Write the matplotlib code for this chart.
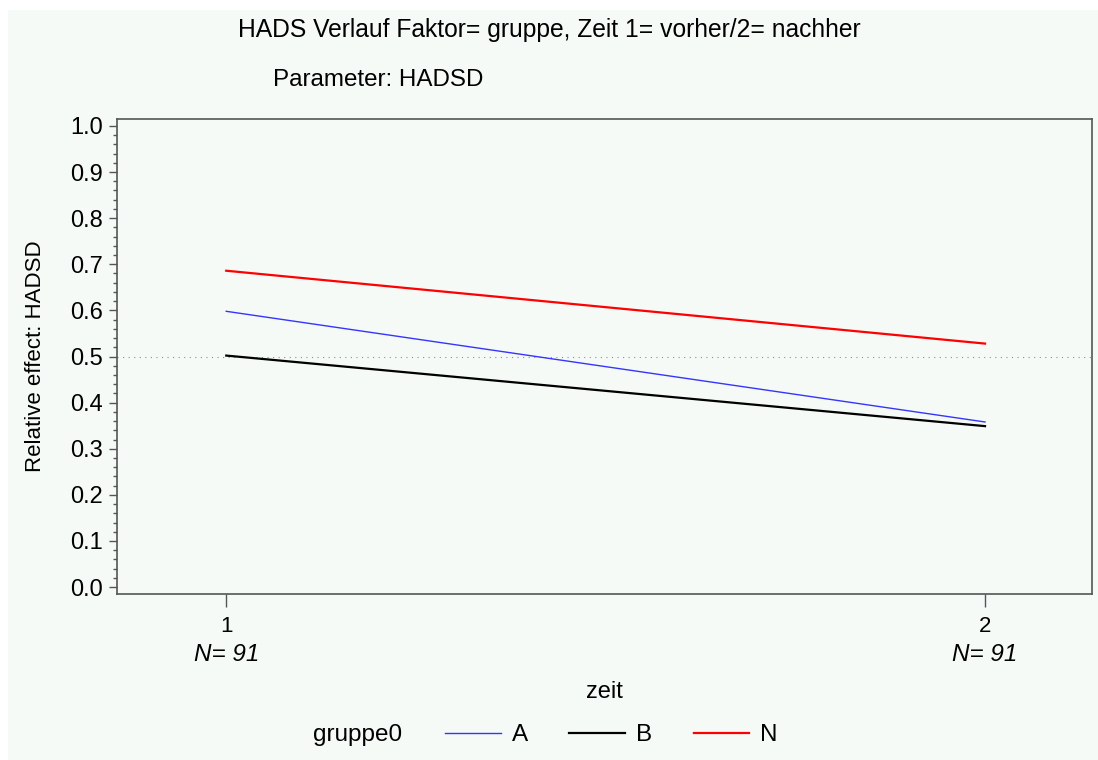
import matplotlib.pyplot as plt
from matplotlib.lines import Line2D
from matplotlib.patches import Rectangle
from matplotlib.ticker import MultipleLocator
import matplotlib.transforms as mtransforms

plt.rcParams['font.family'] = ['Liberation Sans', 'DejaVu Sans']

# Data
zeit = [1, 2]
n_counts = [91, 91]
groups = ['A', 'B', 'N']
values = {
    'A': [0.598, 0.358],
    'B': [0.502, 0.349],
    'N': [0.686, 0.528],
}
colors = {'A': '#3535ff', 'B': 'black', 'N': '#ff0000'}
widths = {'A': 1.0, 'B': 1.6, 'N': 1.6}
bg = '#f5faf7'

fig = plt.figure(figsize=(10.98, 7.6), dpi=100, facecolor='white')
fig.patches.append(Rectangle((8 / 1098, 0), 1, 1 - 10 / 760, transform=fig.transFigure,
                             facecolor=bg, edgecolor='none', zorder=-10))

ax = fig.add_axes([117 / 1098, 166 / 760, 975 / 1098, 475 / 760])
ax.set_facecolor(bg)

for g in groups:
    ax.plot(zeit, values[g], color=colors[g], lw=widths[g])

ax.axhline(0.5, color='#909090', lw=0.8, ls=(0, (1, 4)), zorder=0)

ax.set_xlim(0.856, 2.141)
ax.set_ylim(-0.015, 1.015)
ax.yaxis.set_minor_locator(MultipleLocator(0.02))
ax.set_yticks([i / 10 for i in range(11)])
ax.set_yticklabels([f'{i / 10:.1f}' for i in range(11)])
ax.set_xticks(zeit)
ax.set_xticklabels([str(z) for z in zeit])

for s in ax.spines.values():
    s.set_color('#555555')
    s.set_linewidth(1.2)

ax.tick_params(axis='y', which='major', length=6, width=1, color='#555555',
               labelsize=17, pad=4)
ax.tick_params(axis='y', which='minor', length=3, width=1, color='#555555')
ax.tick_params(axis='x', length=9, width=1, color='#555555', labelsize=16, pad=7)

trans = mtransforms.blended_transform_factory(ax.transData, ax.transAxes)
for z, n in zip(zeit, n_counts):
    ax.text(z, -0.128, f'N= {n}', transform=trans, ha='center', va='center',
            fontsize=17.5, style='italic')

ax.set_ylabel('Relative effect: HADSD', fontsize=16)
ax.yaxis.set_label_coords(-71 / 975, 0.5)
ax.text(0.5, -(692 - 594) / 475, 'zeit', transform=ax.transAxes,
        ha='center', va='center', fontsize=17)

fig.text(549 / 1098, 1 - 30 / 760, 'HADS Verlauf Faktor= gruppe, Zeit 1= vorher/2= nachher',
         ha='center', va='center', fontsize=17.7)
fig.text(273 / 1098, 1 - 80 / 760, 'Parameter: HADSD', ha='left', va='center', fontsize=17.4)

fig.text(313 / 1098, 1 - 735 / 760, 'gruppe0', ha='left', va='center', fontsize=17.5)
handles = [Line2D([], [], color=colors[g], lw=widths[g]) for g in groups]
fig.legend(handles, groups, loc='center left', bbox_to_anchor=(445 / 1098, 1 - 735 / 760),
           ncol=3, frameon=False, fontsize=17.5, handlelength=2.3, handletextpad=0.45,
           columnspacing=1.7, borderaxespad=0, borderpad=0)

fig.savefig('out.png', dpi=100, facecolor='white')
